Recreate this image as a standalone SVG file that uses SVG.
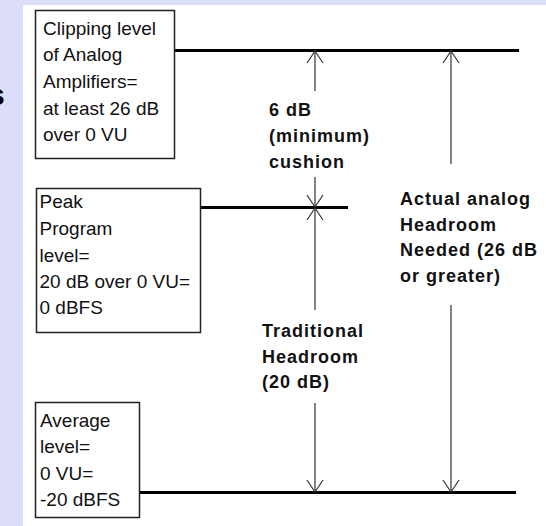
<svg xmlns="http://www.w3.org/2000/svg" width="546" height="526" viewBox="0 0 546 526">
  <style>
    .box { fill: #ffffff; stroke: #222222; stroke-width: 1.5; }
    .lbl { font-family: "Liberation Sans", Arial, sans-serif; font-size: 19px; fill: #111111; }
    .bold { font-family: "Liberation Sans", Arial, sans-serif; font-size: 18px; font-weight: bold; letter-spacing: 1px; fill: #111111; }
    .level { stroke: #000000; stroke-width: 3; fill: none; }
    .dim { stroke: #333333; stroke-width: 1.2; fill: none; marker-end: url(#vhead); }
  </style>
  <defs>
    <marker id="vhead" markerUnits="userSpaceOnUse" markerWidth="30" markerHeight="30" refX="0" refY="0" viewBox="-15 -15 30 30" orient="auto" overflow="visible">
      <path d="M-12,-8 L0,0 L-12,8" fill="none" stroke="#333333" stroke-width="1.2"/>
    </marker>
  </defs>

  <!-- page background -->
  <rect x="0" y="0" width="546" height="526" fill="#dcdef9"/>
  <text x="-12" y="105" font-family="Liberation Sans, Arial, sans-serif" font-size="30" font-weight="bold" fill="#000000">s</text>
  <rect x="23" y="5" width="523" height="521" fill="#ffffff"/>

  <!-- level lines and dimension arrows -->
  <g id="connectors">
    <line class="level" x1="175" y1="50.5" x2="519" y2="50.5"/>
    <line class="level" x1="201" y1="207.5" x2="348" y2="207.5"/>
    <line class="level" x1="139" y1="492.5" x2="516" y2="492.5"/>

    <line class="dim" x1="315" y1="91" x2="315" y2="51"/>
    <line class="dim" x1="315" y1="177" x2="315" y2="207"/>
    <line class="dim" x1="315" y1="310" x2="315" y2="208"/>
    <line class="dim" x1="315" y1="403" x2="315" y2="492"/>

    <line class="dim" x1="451" y1="164" x2="451" y2="51"/>
    <line class="dim" x1="451" y1="305" x2="451" y2="492"/>
  </g>

  <g id="clipping-level">
    <rect class="box" x="35.5" y="10.5" width="139" height="148"/>
    <text class="lbl" x="43" y="34.5">Clipping level</text>
    <text class="lbl" x="43" y="61">of Analog</text>
    <text class="lbl" x="43" y="88">Amplifiers=</text>
    <text class="lbl" x="43" y="114.5">at least 26 dB</text>
    <text class="lbl" x="43" y="141">over 0 VU</text>
  </g>

  <g id="peak-level">
    <rect class="box" x="36.5" y="188.5" width="164" height="144"/>
    <text class="lbl" x="39.5" y="208.3">Peak</text>
    <text class="lbl" x="39.5" y="235">Program</text>
    <text class="lbl" x="39.5" y="261.7">level=</text>
    <text class="lbl" x="39.5" y="287.7">20 dB over 0 VU=</text>
    <text class="lbl" x="39.5" y="314.3">0 dBFS</text>
  </g>

  <g id="average-level">
    <rect class="box" x="35.5" y="402.5" width="104" height="115"/>
    <text class="lbl" x="40" y="426.7">Average</text>
    <text class="lbl" x="40" y="453.3">level=</text>
    <text class="lbl" x="40" y="480">0 VU=</text>
    <text class="lbl" x="40" y="505.7">-20 dBFS</text>
  </g>

  <g id="cushion-label">
    <text class="bold" x="269" y="115.7">6 dB</text>
    <text class="bold" x="269" y="141.7">(minimum)</text>
    <text class="bold" x="269" y="168.3">cushion</text>
  </g>

  <g id="actual-headroom-label">
    <text class="bold" x="400" y="205">Actual analog</text>
    <text class="bold" x="400" y="230.5">Headroom</text>
    <text class="bold" x="400" y="256">Needed (26 dB</text>
    <text class="bold" x="400" y="281.7">or greater)</text>
  </g>

  <g id="traditional-headroom-label">
    <text class="bold" x="262" y="337.3">Traditional</text>
    <text class="bold" x="262" y="363">Headroom</text>
    <text class="bold" x="262" y="388.3">(20 dB)</text>
  </g>
</svg>
